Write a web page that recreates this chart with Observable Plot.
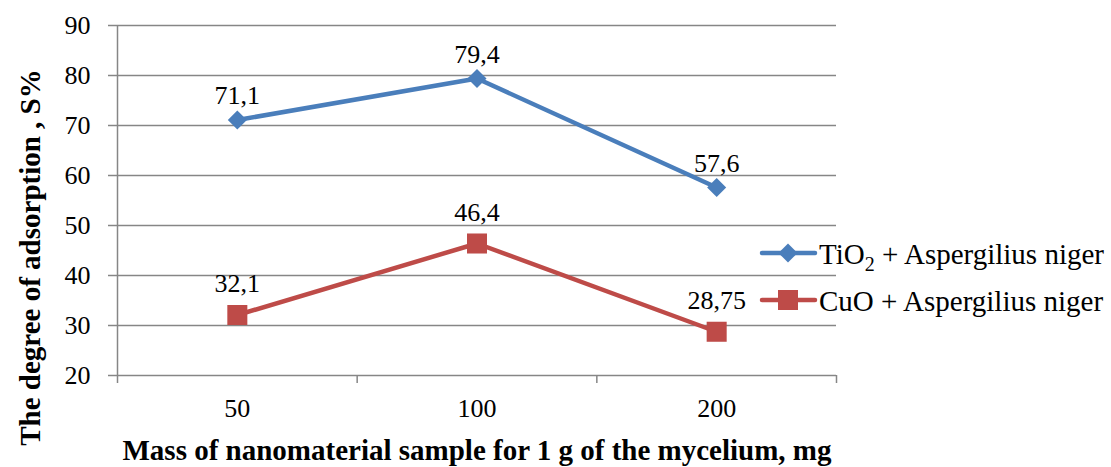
<!DOCTYPE html>
<html>
<head>
<meta charset="utf-8">
<script src="https://cdn.jsdelivr.net/npm/d3@7"></script>
<script src="https://cdn.jsdelivr.net/npm/@observablehq/plot@0.6"></script>
<style>
  html, body { margin: 0; padding: 0; background: #fff; }
  #chart { width: 1111px; height: 467px; }
  #chart svg, #chart svg text, #chart svg tspan { font-family: "Liberation Serif", serif !important; }
</style>
</head>
<body>
<div id="chart"></div>
<script>
const categories = ["50", "100", "200"];
const tio2Values = [71.1, 79.4, 57.6];
const cuoValues = [32.1, 46.4, 28.75];
const tio2Labels = ["71,1", "79,4", "57,6"];
const cuoLabels = ["32,1", "46,4", "28,75"];
const yTicks = [20, 30, 40, 50, 60, 70, 80, 90];
const seriesNames = ["TiO2 + Aspergilius niger", "CuO + Aspergilius niger"];
const xTitle = "Mass of nanomaterial sample for 1 g of the mycelium, mg";
const yTitle = "The degree of adsorption , S%";

const blue = "#4A7EBB";
const red = "#BE4B48";
const gridColor = "#868686";

const tio2 = categories.map((c, i) => ({i: i + 0.5, v: tio2Values[i], label: tio2Labels[i]}));
const cuo = categories.map((c, i) => ({i: i + 0.5, v: cuoValues[i], label: cuoLabels[i]}));
const boundaries = d3.range(categories.length + 1);
const centers = categories.map((c, i) => i + 0.5);

const font = "Liberation Serif";

const chart = Plot.plot({
  width: 1111,
  height: 467,
  marginLeft: 117,
  marginRight: 275,
  marginTop: 25,
  marginBottom: 92,
  style: {fontFamily: font, fontSize: "26px", color: "#000", background: "#fff", overflow: "visible"},
  x: {domain: [0, categories.length], axis: null, label: null},
  y: {domain: [20, 90], axis: null, label: null},
  marks: [
    Plot.gridY(yTicks, {stroke: gridColor, strokeOpacity: 1, strokeWidth: 1.5}),
    Plot.axisY(yTicks, {tickSize: 9, text: null, stroke: gridColor, strokeWidth: 1.5, label: null}),
    Plot.axisY(yTicks, {tickSize: 0, tickPadding: 27, fill: "#000", fontSize: 26, fontFamily: font, label: null}),
    Plot.ruleX([0], {stroke: gridColor, strokeWidth: 1.5}),
    Plot.axisX(boundaries, {tickSize: 8, text: null, stroke: gridColor, strokeWidth: 1.5, label: null}),
    Plot.axisX(centers, {tickSize: 0, tickPadding: 23, tickFormat: (d) => categories[Math.floor(d)], fill: "#000", fontSize: 26, fontFamily: font, label: null}),
    Plot.line(tio2, {x: "i", y: "v", stroke: blue, strokeWidth: 4.5, strokeLinejoin: "round"}),
    Plot.dot(tio2, {x: "i", y: "v", symbol: "diamond2", r: 8.6, fill: blue, stroke: null}),
    Plot.line(cuo, {x: "i", y: "v", stroke: red, strokeWidth: 4.5, strokeLinejoin: "round"}),
    Plot.dot(cuo, {x: "i", y: "v", symbol: "square", r: 11.3, fill: red, stroke: null}),
    Plot.text(tio2, {x: "i", y: "v", text: "label", dy: -24, fontSize: 26, fontFamily: font, fill: "#000"}),
    Plot.text(cuo, {x: "i", y: "v", text: "label", dy: -31, fontSize: 26, fontFamily: font, fill: "#000"}),
    Plot.text([xTitle], {frameAnchor: "bottom", lineAnchor: "middle", textAnchor: "middle", dy: 75, fontWeight: "bold", fontSize: 29, fontFamily: font, fill: "#000"}),
    Plot.text([yTitle], {frameAnchor: "left", textAnchor: "middle", lineAnchor: "middle", dx: -87, dy: 57, rotate: -90, fontWeight: "bold", fontSize: 29, fontFamily: font, fill: "#000"})
  ]
});

document.getElementById("chart").appendChild(chart);

// Legend (drawn into the same SVG)
const svg = d3.select(chart);
const legend = svg.append("g").attr("font-family", font).attr("font-size", 29).attr("text-anchor", "start");
const legendItems = [
  {name: seriesNames[0], color: blue, symbol: d3.symbolDiamond2, size: Math.PI * 8.6 * 8.6, y: 253},
  {name: seriesNames[1], color: red, symbol: d3.symbolSquare, size: Math.PI * 11.3 * 11.3, y: 300}
];
legendItems.forEach((it) => {
  const g = legend.append("g").attr("transform", `translate(0,${it.y})`);
  g.append("line").attr("x1", 762).attr("x2", 815).attr("y1", 0).attr("y2", 0)
    .attr("stroke", it.color).attr("stroke-width", 4.5).attr("stroke-linecap", "round");
  g.append("path").attr("transform", "translate(788,0)")
    .attr("d", d3.symbol(it.symbol, it.size)()).attr("fill", it.color);
  const t = g.append("text").attr("x", 819).attr("y", 0).attr("dy", "0.38em")
    .attr("fill", "#000").attr("text-anchor", "start");
  const m = it.name.match(/^(TiO)2(.*)$/);
  if (m) {
    t.append("tspan").text(m[1]);
    t.append("tspan").text("2").attr("font-size", 20).attr("dy", 7);
    t.append("tspan").text(m[2]).attr("dy", -7);
  } else {
    t.text(it.name);
  }
});
</script>
</body>
</html>
